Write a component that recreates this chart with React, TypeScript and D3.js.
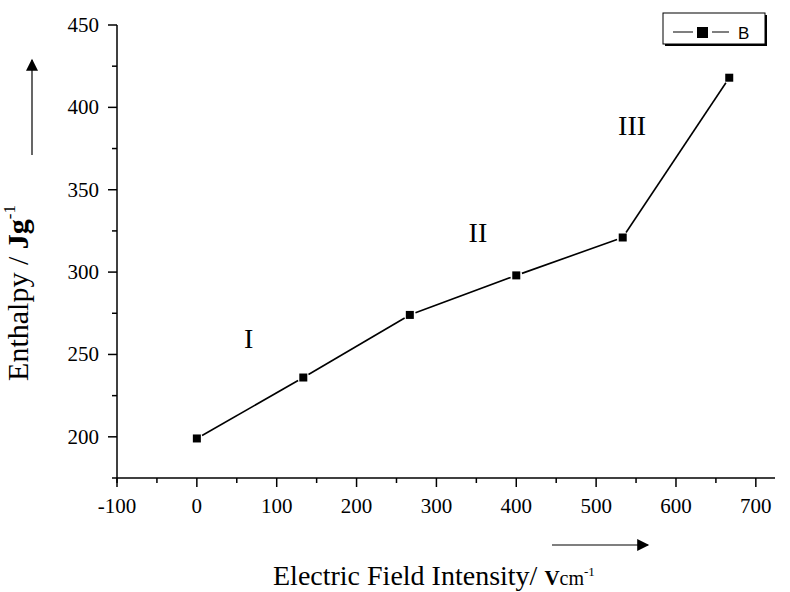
import React, { useEffect, useRef } from 'react';
import * as d3 from 'd3';

// data
const fieldValues = [0, 133.3, 266.7, 400, 533.3, 666.7];
const enthalpyValues = [199, 236, 274, 298, 321, 418];
const xTickValues = [-100, 0, 100, 200, 300, 400, 500, 600, 700];
const yTickValues = [200, 250, 300, 350, 400, 450];
const regionLabels = ['I', 'II', 'III'];
const regionPos = [
    { x: 65, y: 254 },
    { x: 352, y: 318 },
    { x: 545, y: 383 },
];
const seriesName = 'B';

const serif = "'Liberation Serif', 'Times New Roman', serif";

const App = () => {
    const svgRef = useRef(null);
    const width = 790;
    const height = 592;

    useEffect(() => {
        const svg = d3.select(svgRef.current);
        svg.selectAll('*').remove();

        const x = d3.scaleLinear().domain([-100, 724]).range([117, 775]);
        const y = d3.scaleLinear().domain([175, 450]).range([478, 25]);

        const g = svg.append('g');

        // axes lines
        g.append('line')
            .attr('x1', x(-100))
            .attr('x2', x(-100))
            .attr('y1', y(450))
            .attr('y2', y(175) + 5)
            .attr('stroke', '#000')
            .attr('stroke-width', 1.5);
        g.append('line')
            .attr('x1', x(-100) - 5)
            .attr('x2', x(724))
            .attr('y1', y(175))
            .attr('y2', y(175))
            .attr('stroke', '#000')
            .attr('stroke-width', 1.5);

        // x ticks
        const xMinor = d3.range(-50, 724, 100);
        g.selectAll('.xmaj')
            .data(xTickValues)
            .enter()
            .append('line')
            .attr('x1', (d) => x(d))
            .attr('x2', (d) => x(d))
            .attr('y1', y(175))
            .attr('y2', y(175) + 9)
            .attr('stroke', '#000')
            .attr('stroke-width', 1.5);
        g.selectAll('.xmin')
            .data(xMinor)
            .enter()
            .append('line')
            .attr('x1', (d) => x(d))
            .attr('x2', (d) => x(d))
            .attr('y1', y(175))
            .attr('y2', y(175) + 5)
            .attr('stroke', '#000')
            .attr('stroke-width', 1.5);
        g.selectAll('.xlab')
            .data(xTickValues)
            .enter()
            .append('text')
            .attr('x', (d) => x(d))
            .attr('y', 513)
            .attr('text-anchor', 'middle')
            .style('font-family', serif)
            .style('font-size', '21px')
            .text((d) => d);

        // y ticks
        const yMinor = d3.range(225, 450, 50);
        g.selectAll('.ymaj')
            .data(yTickValues)
            .enter()
            .append('line')
            .attr('x1', x(-100) - 9)
            .attr('x2', x(-100))
            .attr('y1', (d) => y(d))
            .attr('y2', (d) => y(d))
            .attr('stroke', '#000')
            .attr('stroke-width', 1.5);
        g.selectAll('.ymin')
            .data(yMinor)
            .enter()
            .append('line')
            .attr('x1', x(-100) - 5)
            .attr('x2', x(-100))
            .attr('y1', (d) => y(d))
            .attr('y2', (d) => y(d))
            .attr('stroke', '#000')
            .attr('stroke-width', 1.5);
        g.selectAll('.ylab')
            .data(yTickValues)
            .enter()
            .append('text')
            .attr('x', 99)
            .attr('y', (d) => y(d) + 7)
            .attr('text-anchor', 'end')
            .style('font-family', serif)
            .style('font-size', '21px')
            .text((d) => d);

        // data line (with small gaps at the symbols) + markers
        const pts = fieldValues.map((f, i) => [x(f), y(enthalpyValues[i])]);
        const gap = 6;
        const segs = d3.pairs(pts).map(([a, b]) => {
            const dx = b[0] - a[0];
            const dy = b[1] - a[1];
            const len = Math.hypot(dx, dy);
            const ux = dx / len;
            const uy = dy / len;
            return [
                [a[0] + ux * gap, a[1] + uy * gap],
                [b[0] - ux * gap, b[1] - uy * gap],
            ];
        });
        const line = d3.line();
        g.selectAll('.seg')
            .data(segs)
            .enter()
            .append('path')
            .attr('d', (d) => line(d))
            .attr('fill', 'none')
            .attr('stroke', '#000')
            .attr('stroke-width', 1.6);
        g.selectAll('.pt')
            .data(pts)
            .enter()
            .append('rect')
            .attr('x', (d) => d[0] - 4)
            .attr('y', (d) => d[1] - 4)
            .attr('width', 8)
            .attr('height', 8)
            .attr('fill', '#000');

        // region labels
        g.selectAll('.reg')
            .data(regionLabels)
            .enter()
            .append('text')
            .attr('x', (d, i) => x(regionPos[i].x))
            .attr('y', (d, i) => y(regionPos[i].y))
            .attr('text-anchor', 'middle')
            .style('font-family', serif)
            .style('font-size', '28px')
            .text((d) => d);

        // legend
        const lg = svg.append('g');
        lg.append('rect')
            .attr('x', 665)
            .attr('y', 15)
            .attr('width', 102)
            .attr('height', 31)
            .attr('fill', '#000');
        lg.append('rect')
            .attr('x', 663)
            .attr('y', 13)
            .attr('width', 102)
            .attr('height', 31)
            .attr('fill', '#fff')
            .attr('stroke', '#000')
            .attr('stroke-width', 1);
        lg.append('line').attr('x1', 673).attr('x2', 729).attr('y1', 32).attr('y2', 32).attr('stroke', '#000').attr('stroke-width', 1.2);
        lg.append('rect').attr('x', 697).attr('y', 27).attr('width', 11).attr('height', 11).attr('fill', '#000');
        lg.append('rect').attr('x', 693).attr('y', 28).attr('width', 4).attr('height', 8).attr('fill', '#fff');
        lg.append('rect').attr('x', 708).attr('y', 28).attr('width', 4).attr('height', 8).attr('fill', '#fff');
        lg.append('text')
            .attr('x', 738)
            .attr('y', 39)
            .style('font-family', "'Liberation Sans', Arial, sans-serif")
            .style('font-size', '17px')
            .text(seriesName);

        // arrows
        const defs = svg.append('defs');
        defs.append('marker')
            .attr('id', 'arr')
            .attr('viewBox', '0 0 10 10')
            .attr('refX', 9)
            .attr('refY', 5)
            .attr('markerWidth', 14)
            .attr('markerHeight', 12)
            .attr('markerUnits', 'userSpaceOnUse')
            .attr('orient', 'auto')
            .append('path')
            .attr('d', 'M0,0 L10,5 L0,10 Z')
            .attr('fill', '#000');
        svg.append('line')
            .attr('x1', 32)
            .attr('y1', 155)
            .attr('x2', 32)
            .attr('y2', 60)
            .attr('stroke', '#000')
            .attr('stroke-width', 1.2)
            .attr('marker-end', 'url(#arr)');
        svg.append('line')
            .attr('x1', 552)
            .attr('y1', 545)
            .attr('x2', 648)
            .attr('y2', 545)
            .attr('stroke', '#000')
            .attr('stroke-width', 1.2)
            .attr('marker-end', 'url(#arr)');

        // axis titles
        const xt = svg
            .append('text')
            .attr('x', 273)
            .attr('y', 585)
            .style('font-family', serif)
            .style('font-size', '28px');
        xt.append('tspan').text('Electric Field Intensity/ ');
        xt.append('tspan').style('font-weight', 'bold').style('font-size', '21px').text('V');
        xt.append('tspan').style('font-size', '20px').text('cm');
        xt.append('tspan').style('font-size', '13px').attr('dy', -9).text('-1');

        const yt = svg
            .append('text')
            .attr('transform', 'translate(28, 293) rotate(-90)')
            .attr('text-anchor', 'middle')
            .style('font-family', serif)
            .style('font-size', '30px');
        yt.append('tspan').text('Enthalpy / ');
        yt.append('tspan').style('font-weight', 'bold').text('Jg');
        yt.append('tspan').style('font-size', '17px').attr('dy', -13).text('-1');
    }, []);

    return (
        <svg
            ref={svgRef}
            width={width}
            height={height}
            style={{ display: 'block', position: 'absolute', left: 0, top: 0, background: '#fff' }}
        />
    );
};

export default App;
